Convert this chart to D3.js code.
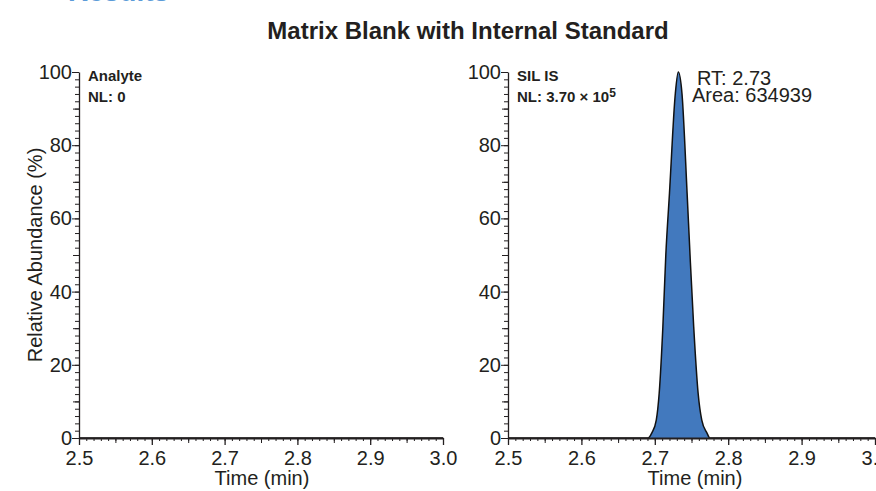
<!DOCTYPE html>
<html>
<head>
<meta charset="utf-8">
<script src="https://cdn.jsdelivr.net/npm/d3@7"></script>
<style>
  body { margin: 0; background: #fff; }
  svg text { font-family: "Liberation Sans", Arial, sans-serif; fill: #231f20; }
  .axis path, .axis line { stroke: #231f20; }
</style>
</head>
<body>
<svg id="chart"></svg>
<script>
// chart values
const timeDomain = [2.5, 3.0];
const abundanceDomain = [0, 100];
const xTickLabels = [2.5, 2.6, 2.7, 2.8, 2.9, 3.0];
const yTickLabels = [0, 20, 40, 60, 80, 100];

// analyte trace (NL: 0, nothing detected)
const analyteTimes = [2.5, 3.0];
const analyteValues = [0, 0];

// SIL internal standard trace
const silTimes = [2.5, 2.691, 2.696, 2.702, 2.706, 2.711, 2.715, 2.720, 2.728, 2.732, 2.737, 2.744, 2.748, 2.753, 2.759, 2.764, 2.771, 2.775, 3.0];
const silValues = [0, 0, 1.4, 4.9, 12.3, 30.4, 50, 66.9, 94.2, 100, 94.2, 66.9, 50, 30.4, 12.3, 4.9, 1.4, 0, 0];
const silArea = 634939;

const width = 876, height = 491;
const svg = d3.select('#chart').attr('width', width).attr('height', height);

// heading of the page above, cut off at the top edge
svg.append('text')
  .attr('x', 68).attr('y', 1)
  .attr('font-size', 28).attr('font-weight', 'bold')
  .style('fill', '#5b9bd8')
  .text('Results');

svg.append('text')
  .attr('x', 468).attr('y', 39)
  .attr('text-anchor', 'middle')
  .attr('font-size', 24).attr('font-weight', 'bold')
  .text('Matrix Blank with Internal Standard');

const panels = [
  { title: 'Analyte', nl: 'NL: 0', sup: null, times: analyteTimes, values: analyteValues, left: 79, right: 443, labelX: 262 },
  { title: 'SIL IS', nl: 'NL: 3.70 × 10', sup: '5', times: silTimes, values: silValues, left: 508, right: 875, labelX: 695 }
];

const plotTop = 72, plotBottom = 438;
const y = d3.scaleLinear().domain(abundanceDomain).range([plotBottom, plotTop]);

panels.forEach(p => {
  const x = d3.scaleLinear().domain(timeDomain).range([p.left, p.right]);
  const g = svg.append('g');
  const pts = p.times.map((t, k) => [t, p.values[k]]);

  const area = d3.area()
    .x(d => x(d[0])).y0(y(0)).y1(d => y(d[1]))
    .curve(d3.curveMonotoneX);
  const line = d3.line()
    .x(d => x(d[0])).y(d => y(d[1]))
    .curve(d3.curveMonotoneX);

  g.append('path').datum(pts)
    .attr('d', area)
    .attr('fill', '#4279be');
  g.append('path').datum(pts)
    .attr('d', line)
    .attr('fill', 'none')
    .attr('stroke', '#111')
    .attr('stroke-width', 1.5);

  // x axis: minor / mid / major ticks
  const xMinor = d3.range(250, 301, 1).map(d => d / 100);
  const xMid = d3.range(255, 300, 10).map(d => d / 100);
  g.append('g').attr('class', 'axis')
    .attr('transform', `translate(0,${plotBottom})`)
    .call(d3.axisBottom(x).tickValues(xMinor).tickSize(3).tickFormat(''))
    .call(a => a.select('.domain').remove());
  g.append('g').attr('class', 'axis')
    .attr('transform', `translate(0,${plotBottom})`)
    .call(d3.axisBottom(x).tickValues(xMid).tickSize(5).tickFormat(''))
    .call(a => a.select('.domain').remove());
  const xa = g.append('g').attr('class', 'axis')
    .attr('transform', `translate(0,${plotBottom})`)
    .call(d3.axisBottom(x).tickValues(xTickLabels).tickSize(7).tickSizeOuter(0).tickPadding(6).tickFormat(d3.format('.1f')));
  xa.select('.domain').attr('stroke-width', 2);
  xa.selectAll('line').attr('stroke-width', 1.3);
  xa.selectAll('text').attr('font-size', 20).attr('font-family', null).style('fill', '#231f20');

  // y axis
  const yMinor = d3.range(0, 101, 2);
  const yMid = d3.range(10, 100, 20);
  g.append('g').attr('class', 'axis')
    .attr('transform', `translate(${p.left},0)`)
    .call(d3.axisLeft(y).tickValues(yMinor).tickSize(4).tickFormat(''))
    .call(a => a.select('.domain').remove());
  g.append('g').attr('class', 'axis')
    .attr('transform', `translate(${p.left},0)`)
    .call(d3.axisLeft(y).tickValues(yMid).tickSize(6).tickFormat(''))
    .call(a => a.select('.domain').remove());
  const ya = g.append('g').attr('class', 'axis')
    .attr('transform', `translate(${p.left},0)`)
    .call(d3.axisLeft(y).tickValues(yTickLabels).tickSize(7).tickSizeOuter(0).tickPadding(0));
  ya.select('.domain').attr('stroke-width', 1.3);
  ya.selectAll('text').attr('font-size', 20).attr('font-family', null).style('fill', '#231f20');

  g.append('text')
    .attr('x', p.labelX).attr('y', 485)
    .attr('text-anchor', 'middle').attr('font-size', 20)
    .text('Time (min)');

  // trace label
  const lab = g.append('text')
    .attr('font-size', 15).attr('font-weight', 'bold');
  lab.append('tspan').attr('x', p.left + 9).attr('y', 81).text(p.title);
  lab.append('tspan').attr('x', p.left + 9).attr('y', 102).text(p.nl);
  if (p.sup) {
    lab.append('tspan').attr('dy', -5).attr('font-size', 12).text(p.sup);
  }
});

svg.append('text')
  .attr('transform', 'translate(42,255) rotate(-90)')
  .attr('text-anchor', 'middle').attr('font-size', 20)
  .text('Relative Abundance (%)');

// peak annotation
const apexIdx = silValues.indexOf(d3.max(silValues));
const ann = svg.append('text').attr('font-size', 20);
ann.append('tspan').attr('x', 697).attr('y', 85)
  .text('RT: ' + silTimes[apexIdx].toFixed(2));
ann.append('tspan').attr('x', 692).attr('y', 102)
  .text('Area: ' + silArea);
</script>
</body>
</html>
